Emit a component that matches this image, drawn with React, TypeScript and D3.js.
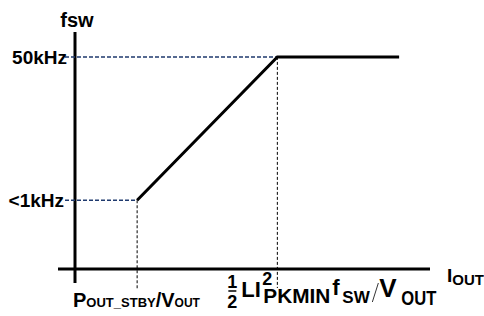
import React, { useEffect } from "react";
import * as d3 from "d3";

// load curve: I_OUT (arbitrary units) vs switching frequency (arbitrary units)
const ioutValues = [17.5, 57, 91.3];
const fswValues = [29, 89.5, 89.5];
const fswTickLabels = ["<1kHz", "50kHz"];
const xDomain = [0, 100];
const yDomain = [0, 100];

const W = 484;
const H = 316;
const FONT = "Arial, 'Liberation Sans', sans-serif";
const NAVY = "#1f3a6e";

export default function App() {
  useEffect(() => {
    document.body.style.margin = "0";
  }, []);

  const x = d3.scaleLinear().domain(xDomain).range([75, 430]);
  const y = d3.scaleLinear().domain(yDomain).range([269, 32]);

  const pts = ioutValues.map((v, i) => [x(v), y(fswValues[i])] as [number, number]);
  const line = d3.line<[number, number]>();

  const lowY = y(fswValues[0]);
  const highY = y(fswValues[1]);
  const x0 = x(0);
  const kx = pts[1][0];
  const sx = pts[0][0];

  return (
    <svg width={W} height={H} style={{ display: "block", background: "#fff" }} fontFamily={FONT} fontWeight="bold">
      {/* axes */}
      <line x1={x0} x2={x0} y1={y(100)} y2={y(0) + 14} stroke="#000" strokeWidth={3} />
      <line x1={x0 - 17} x2={x(100)} y1={y(0)} y2={y(0)} stroke="#000" strokeWidth={3} />

      {/* guide lines */}
      <line x1={x0 - 10} x2={sx} y1={lowY} y2={lowY} stroke={NAVY} strokeWidth={1.5} strokeDasharray="4,2" />
      <line x1={x0 - 10} x2={kx} y1={highY} y2={highY} stroke={NAVY} strokeWidth={1.5} strokeDasharray="4,2" />
      <line x1={sx} x2={sx} y1={lowY} y2={y(0) + 21} stroke="#000" strokeWidth={1} strokeDasharray="3,2" />
      <line x1={kx} x2={kx} y1={highY} y2={y(0) + 19} stroke="#000" strokeWidth={1} strokeDasharray="3,2" />

      {/* curve */}
      <path d={line(pts) ?? ""} fill="none" stroke="#000" strokeWidth={3} />

      {/* y labels */}
      <text x={x0 + 2} y={27} fontSize={20} textAnchor="middle">fsw</text>
      <text x={x0 - 8} y={highY + 7} fontSize={19} textAnchor="end">{fswTickLabels[1]}</text>
      <text x={x0 - 11} y={lowY + 7} fontSize={19} textAnchor="end">{fswTickLabels[0]}</text>

      {/* x axis title */}
      <text x={x(100) + 17} y={282} fontSize={19}>
        I<tspan fontSize={15} dy={3}>OUT</tspan>
      </text>

      {/* standby label */}
      <text x={x0 - 2} y={307} fontSize={20}>
        P<tspan fontSize={13}>OUT_STBY</tspan>/V<tspan fontSize={12}>OUT</tspan>
      </text>

      {/* knee label: 1/2 L I^2 PKMIN f SW / V OUT */}
      <g transform={`translate(${kx},0)`}>
        <text x={-45} y={288} fontSize={18} textAnchor="middle">1</text>
        <line x1={-49} x2={-41} y1={291} y2={291} stroke="#000" strokeWidth={1.5} />
        <text x={-45} y={308} fontSize={18} textAnchor="middle">2</text>
        <text x={-36} y={297} fontSize={22}>LI</text>
        <text x={-15} y={285} fontSize={18}>2</text>
        <text x={-14} y={303} fontSize={21} textLength={67} lengthAdjust="spacingAndGlyphs">PKMIN</text>
        <text x={55} y={295} fontSize={22}>f</text>
        <text x={65} y={303} fontSize={17}>SW</text>
        <line x1={95} x2={101} y1={302} y2={283} stroke="#000" strokeWidth={0.8} />
        <text x={102} y={297} fontSize={26}>V</text>
        <text x={124} y={305} fontSize={20} textLength={35} lengthAdjust="spacingAndGlyphs">OUT</text>
      </g>
    </svg>
  );
}
